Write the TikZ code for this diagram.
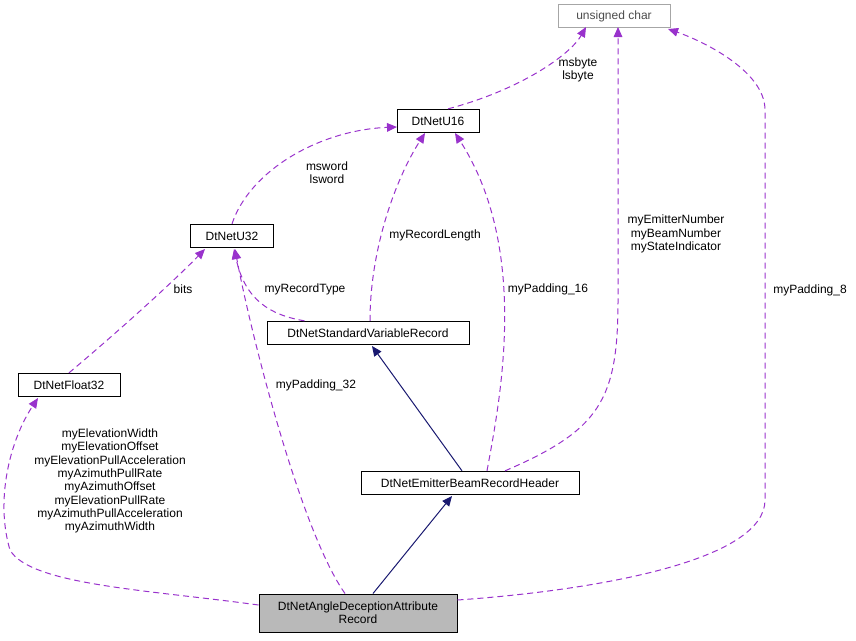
\documentclass[tikz,border=0pt]{standalone}
\usepackage{fontspec}
\setmainfont{Liberation Sans}
\usetikzlibrary{arrows.meta}
\definecolor{edgepurple}{RGB}{153,50,204}
\definecolor{edgenavy}{RGB}{25,25,112}
\tikzset{every picture/.style={line width=0.75pt}}
\tikzset{
  cls/.style={draw=black,fill=white,inner sep=0pt,minimum height=17.5pt,font=\fontsize{9}{10.5}\selectfont},
  usage/.style={draw=edgepurple,dashed,dash pattern=on 4.5pt off 3pt,-{Triangle[length=7.5pt,width=6.5pt,fill=edgepurple]}},
  inherit/.style={draw=edgenavy,-{Triangle[length=7.5pt,width=6.5pt,fill=edgenavy]}},
  lbl/.style={align=center,inner sep=0pt,font=\fontsize{9}{10}\selectfont}
}
\begin{document}
\begin{tikzpicture}[x=0.75pt,y=0.75pt,yscale=-1,xscale=1]
\useasboundingbox (0,0) rectangle (856,640);

% Classes
\node [cls,draw=gray!70,text=gray!60!black,minimum width=84pt] (uchar) at (614,16) {unsigned char};
\node [cls,minimum width=61.5pt] (u16) at (438,121) {DtNetU16};
\node [cls,minimum width=62pt] (u32) at (232,236) {DtNetU32};
\node [cls,minimum width=151.5pt] (svr) at (368,333) {DtNetStandardVariableRecord};
\node [cls,minimum width=76.5pt] (f32) at (69,385) {DtNetFloat32};
\node [cls,minimum width=163.5pt] (ebrh) at (470,483) {DtNetEmitterBeamRecordHeader};
\node [cls,fill=gray!55,minimum width=148.5pt,minimum height=28.5pt,align=center,font=\fontsize{9}{9.5}\selectfont] (adar) at (358,613) {DtNetAngleDeceptionAttribute\\Record};

% Usage edges
\draw [usage] (u16.north) ++(10,0) .. controls (520,90) and (570,55) .. (586,27);
\draw [usage] (u32.north) .. controls (250,170) and (320,130) .. (397,127);
\draw [usage] (svr.north west) ++(38,0) .. controls (270,315) and (245,300) .. (234,249);
\draw [usage] (svr.north) ++(2,0) .. controls (370,250) and (395,180) .. (425,133);
\draw [usage] (f32.north) .. controls (120,330) and (175,280) .. (205,249);
\draw [usage] (ebrh.north) ++(17,0) .. controls (500,400) and (530,250) .. (455,133);
\draw [usage] (ebrh.north) ++(35,0) .. controls (600,430) and (618,400) .. (618,300) -- (618,27);
\draw [usage] (adar.west) ++(0,-8) .. controls (150,590) and (30,585) .. (10,550) .. controls (-5,500) and (10,440) .. (38,398);
\draw [usage] (adar.north) ++(-13,0) .. controls (300,530) and (250,330) .. (235,249);
\draw [usage] (adar.east) ++(0,-13) .. controls (600,590) and (765,560) .. (765,500) -- (765,110) .. controls (765,70) and (700,40) .. (668,29);

% Inheritance edges
\draw [inherit] (ebrh.north) ++(-8,0) -- (372,346);
\draw [inherit] (adar.north) ++(15,0) -- (452,496);

% Edge labels
\node [lbl] (l1) at (578,70) {msbyte\\lsbyte};
\node [lbl] (l2) at (327,173) {msword\\lsword};
\node [lbl] (l3) at (305,289) {myRecordType};
\node [lbl] (l4) at (435,235) {myRecordLength};
\node [lbl] (l5) at (183,289) {bits};
\node [lbl] (l6) at (548,289) {myPadding\_16};
\node [lbl] (l7) at (676,234) {myEmitterNumber\\myBeamNumber\\myStateIndicator};
\node [lbl] (l8) at (316,385) {myPadding\_32};
\node [lbl] (l9) at (810,290) {myPadding\_8};
\node [lbl] (l10) at (110,481) {myElevationWidth\\myElevationOffset\\myElevationPullAcceleration\\myAzimuthPullRate\\myAzimuthOffset\\myElevationPullRate\\myAzimuthPullAcceleration\\myAzimuthWidth};

\end{tikzpicture}
\end{document}
